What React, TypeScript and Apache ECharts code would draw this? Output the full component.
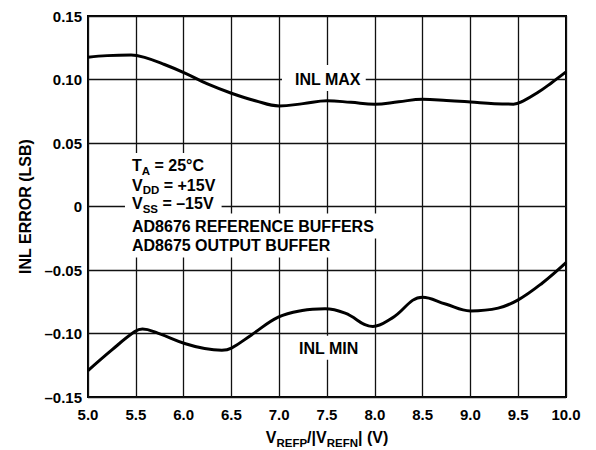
import React, { useEffect, useRef } from "react";
import * as echarts from "echarts";

// Reference voltage sweep (V) and measured INL extremes (LSB)
const inlMaxX = [5.0, 5.2, 5.45, 5.6, 5.8, 6.02, 6.25, 6.5, 6.75, 7.0, 7.25, 7.5, 7.75, 8.0, 8.25, 8.5, 8.75, 9.0, 9.25, 9.45, 9.55, 9.7, 9.85, 10.0];
const inlMaxY = [0.1175, 0.1188, 0.1193, 0.1172, 0.1118, 0.1049, 0.0965, 0.0892, 0.0833, 0.0792, 0.081, 0.0833, 0.082, 0.0805, 0.0825, 0.0844, 0.0835, 0.0823, 0.081, 0.0806, 0.083, 0.0895, 0.0975, 0.106];

const inlMinX = [5.0, 5.25, 5.49, 5.57, 5.73, 6.02, 6.22, 6.4, 6.5, 6.71, 6.99, 7.24, 7.48, 7.69, 7.98, 8.18, 8.5, 8.74, 9.0, 9.29, 9.5, 9.75, 10.0];
const inlMinY = [-0.1292, -0.1129, -0.0985, -0.0965, -0.0997, -0.1081, -0.1118, -0.1131, -0.1115, -0.1011, -0.0871, -0.0819, -0.0806, -0.084, -0.0945, -0.0879, -0.0714, -0.0768, -0.0822, -0.08, -0.0735, -0.0604, -0.0442];

const xMin = 5.0;
const xMax = 10.0;
const xStep = 0.5;
const yMin = -0.15;
const yMax = 0.15;
const yStep = 0.05;

const conditionLines = [
  "T{sub|A} = 25°C",
  "V{sub|DD} = +15V",
  "V{sub|SS} = \u201315V",
  "AD8676 REFERENCE BUFFERS",
  "AD8675 OUTPUT BUFFER",
];

const FONT = "'Liberation Sans', Arial, Helvetica, sans-serif";

const fmtY = (v: number) => {
  if (Math.abs(v) < 1e-9) return "0";
  const s = Math.abs(v).toFixed(2);
  return v < 0 ? "\u2013" + s : s;
};

const subStyle = (color: string) => ({
  fontSize: 11.5,
  fontWeight: "bold",
  fontFamily: FONT,
  color,
  verticalAlign: "bottom",
  lineHeight: 11,
});

export default function App() {
  const ref = useRef<HTMLDivElement>(null);

  useEffect(() => {
    if (!ref.current) return;
    const chart = echarts.init(ref.current, null, { renderer: "svg" });

    const pair = (xs: number[], ys: number[]) => xs.map((x, i) => [x, ys[i]]);

    chart.setOption({
      animation: false,
      backgroundColor: "#fff",
      grid: {
        left: 88,
        right: 30,
        top: 16,
        bottom: 53,
        outerBoundsMode: "none",
        show: true,
        borderColor: "#000",
        borderWidth: 2,
        backgroundColor: "transparent",
      },
      xAxis: {
        type: "value",
        min: xMin,
        max: xMax,
        interval: xStep,
        axisLine: { show: false },
        axisTick: { show: false },
        splitLine: { show: true, lineStyle: { color: "#111", width: 1.3 } },
        axisLabel: {
          formatter: (v: number) => v.toFixed(1),
          color: "#000",
          fontFamily: FONT,
          fontWeight: "bold",
          fontSize: 15,
          margin: 10,
        },
        name: "V{sub|REFP}/|V{sub|REFN}| (V)",
        nameLocation: "middle",
        nameGap: 28,
        nameTextStyle: {
          color: "#000",
          fontFamily: FONT,
          fontWeight: "bold",
          fontSize: 16,
          lineHeight: 22,
          rich: { sub: subStyle("#000") },
        },
      },
      yAxis: {
        type: "value",
        min: yMin,
        max: yMax,
        interval: yStep,
        axisLine: { show: false },
        axisTick: { show: false },
        splitLine: { show: true, lineStyle: { color: "#111", width: 1.3 } },
        axisLabel: {
          formatter: fmtY,
          color: "#000",
          fontFamily: FONT,
          fontWeight: "bold",
          fontSize: 15,
          margin: 6,
        },
        name: "INL ERROR (LSB)",
        nameLocation: "middle",
        nameRotate: 90,
        nameGap: 53,
        nameTextStyle: {
          color: "#000",
          fontFamily: FONT,
          fontWeight: "bold",
          fontSize: 16,
        },
      },
      series: [
        {
          name: "INL MAX",
          type: "line",
          data: pair(inlMaxX, inlMaxY),
          smooth: 0.4,
          showSymbol: false,
          lineStyle: { color: "#000", width: 3 },
        },
        {
          name: "INL MIN",
          type: "line",
          data: pair(inlMinX, inlMinY),
          smooth: 0.4,
          showSymbol: false,
          lineStyle: { color: "#000", width: 3 },
        },
      ],
    });

    const px = (x: number, y: number) =>
      chart.convertToPixel({ gridIndex: 0 }, [x, y]) as number[];

    // Each annotation is drawn twice: a white knock-out box underneath
    // (so one line's box never hides the previous line's subscript), then the ink.
    const label = (
      text: string,
      x: number,
      y: number,
      padding: number[],
      lineHeight: number
    ) => {
      const common = {
        text,
        fontFamily: FONT,
        fontWeight: "bold",
        fontSize: 16,
        lineHeight,
        align: "left",
        verticalAlign: "middle",
        padding,
      };
      return [
        {
          type: "text",
          x,
          y,
          z: 90,
          silent: true,
          style: {
            ...common,
            fill: "rgba(0,0,0,0)",
            backgroundColor: "#fff",
            rich: { sub: subStyle("rgba(0,0,0,0)") },
          },
        },
        {
          type: "text",
          x,
          y,
          z: 100,
          style: { ...common, fill: "#000", rich: { sub: subStyle("#000") } },
        },
      ];
    };

    // Test-condition block
    const blockY = [0.0319, 0.0169, 0.002, -0.0154, -0.0303];
    const blockLeft = px(5.46, 0)[0] - 7;
    const blockTexts = conditionLines.flatMap((t, i) => {
      const [, y] = px(5.46, blockY[i]);
      const hasSub = t.includes("{sub|");
      return label(
        t,
        blockLeft,
        y,
        hasSub ? [2, 8, 2, 7] : [4, 8, 3, 7],
        hasSub ? 22 : 18
      );
    });

    const [maxLx, maxLy] = px(7.165, 0.1012);
    const [minLx, minLy] = px(7.207, -0.1113);

    chart.setOption({
      graphic: [
        ...blockTexts,
        ...label("INL MAX", maxLx - 13, maxLy, [6, 5, 2, 13], 18),
        ...label("INL MIN", minLx - 5, minLy, [4, 5, 2, 5], 18),
      ],
    });

    return () => chart.dispose();
  }, []);

  return (
    <div
      ref={ref}
      style={{ position: "fixed", left: 0, top: 0, width: 596, height: 450 }}
    />
  );
}
